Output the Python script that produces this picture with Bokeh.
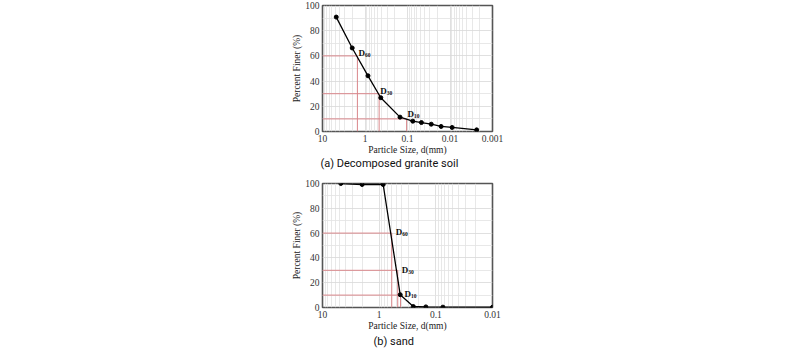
from bokeh.plotting import figure
from bokeh.layouts import column
from bokeh.models import Range1d, FixedTicker, Title, ColumnDataSource
from bokeh.core.properties import value
from bokeh.embed import file_html
from bokeh.resources import INLINE
import math

# ---- data: (a) decomposed granite soil ----
gs_size = [4.75, 2.0, 0.85, 0.425, 0.15, 0.075, 0.047, 0.0276, 0.0162, 0.0089, 0.00236]
gs_finer = [90.8, 66.3, 44.2, 26.8, 11.4, 8.2, 7.1, 5.8, 4.0, 3.2, 1.3]
gs_d_subs = ["60", "30", "10"]
gs_d_pct = [60, 30, 10]
gs_d_size = [1.51, 0.465, 0.105]

# ---- data: (b) sand ----
sd_size = [4.75, 2.0, 0.85, 0.425, 0.25, 0.15, 0.075, 0.01]
sd_finer = [100.0, 99.2, 99.2, 10.3, 0.8, 0.5, 0.3, 0.2]
sd_d_subs = ["60", "30", "10"]
sd_d_pct = [60, 30, 10]
sd_d_size = [0.6, 0.47, 0.42]

yticks = [0, 20, 40, 60, 80, 100]
yminor = [10, 30, 50, 70, 90]

SERIF = "Liberation Serif"
RED = "#d9868a"


def decade_minors(lo_exp, hi_exp):
    out = []
    for e in range(lo_exp, hi_exp):
        for m in range(2, 10):
            out.append(m * 10.0 ** e)
    return out


def make_fig(xmax, xmin, xticks, xlabels, sizes, finer, d_size, d_pct, d_subs,
             caption, cap_offset, cap_standoff, h, border_top, border_left, border_bottom,
             label_dys, label_dx):
    p = figure(width=800, height=h, x_axis_type="log",
               x_range=Range1d(xmax, xmin), y_range=Range1d(0, 100),
               output_backend="svg", toolbar_location=None,
               min_border_left=border_left, min_border_right=308,
               min_border_top=border_top, min_border_bottom=border_bottom)
    p.background_fill_color = "white"
    p.outline_line_color = "#555555"
    p.outline_line_width = 1.6

    lo = int(round(math.log10(xmin)))
    hi = int(round(math.log10(xmax)))
    p.xaxis.ticker = FixedTicker(ticks=xticks, minor_ticks=decade_minors(lo, hi))
    p.xaxis.major_label_overrides = {t: l for t, l in zip(xticks, xlabels)}
    p.yaxis.ticker = FixedTicker(ticks=yticks, minor_ticks=yminor)

    for ax in (p.xaxis[0], p.yaxis[0]):
        ax.axis_line_color = None
        ax.major_tick_line_color = None
        ax.minor_tick_line_color = None
        ax.major_tick_out = 0
        ax.minor_tick_out = 0
        ax.major_label_text_font = SERIF
        ax.major_label_text_font_size = "9.5px"
        ax.major_label_text_color = "#333333"
        ax.axis_label_text_font = SERIF
        ax.axis_label_text_font_size = "9.5px"
        ax.axis_label_text_font_style = "normal"
        ax.axis_label_text_color = "#222222"
    p.xaxis.axis_label = "Particle Size, d(mm)"
    p.yaxis.axis_label = "Percent Finer (%)"
    p.xaxis.major_label_standoff = 3
    p.xaxis.axis_label_standoff = 0
    p.yaxis.major_label_standoff = 3
    p.yaxis.axis_label_standoff = 0

    for g in (p.xgrid[0], p.ygrid[0]):
        g.grid_line_color = "#d8d8d8"
        g.grid_line_width = 0.8
        g.minor_grid_line_color = "#e2e2e2"
        g.minor_grid_line_width = 0.8

    # reference lines for D values
    for ds, dp in zip(d_size, d_pct):
        p.line([xmax, ds], [dp, dp], line_color=RED, line_width=1)
        p.line([ds, ds], [0, dp], line_color=RED, line_width=1)

    p.line(sizes, finer, line_color="black", line_width=1.3)
    p.scatter(sizes, finer, size=4, color="black")

    src = ColumnDataSource(dict(x=d_size, y=d_pct, sub=d_subs, d=["D"] * len(d_subs),
                                dy=label_dys, dys=[v + 2 for v in label_dys]))
    p.text(x="x", y="y", text="d", source=src, x_offset=label_dx, y_offset="dy",
           text_font=value(SERIF), text_font_size="9px", text_font_style="bold",
           text_baseline="middle", text_align="left", text_color="#111111")
    p.text(x="x", y="y", text="sub", source=src, x_offset=label_dx + 6.5,
           y_offset="dys", text_font=value(SERIF), text_font_size="5.5px",
           text_font_style="bold", text_baseline="middle", text_align="left",
           text_color="#111111")

    t = Title(text=caption, align="left", offset=cap_offset,
              text_font="Roboto", text_font_size="11px", text_font_style="normal",
              text_color="#111111", standoff=cap_standoff)
    p.add_layout(t, "below")
    return p


p1 = make_fig(10, 0.001, [10, 1, 0.1, 0.01, 0.001], ["10", "1", "0.1", "0.01", "0.001"],
              gs_size, gs_finer, gs_d_size, gs_d_pct, gs_d_subs,
              "(a) Decomposed granite soil", -2, -5, 177, 5, 320, 46, [-3, -3, -5], 1)
p2 = make_fig(10, 0.01, [10, 1, 0.1, 0.01], ["10", "1", "0.1", "0.01"],
              sd_size, sd_finer, sd_d_size, sd_d_pct, sd_d_subs,
              "(b) sand", 51, -2, 177, 6, 322, 47, [-1, 0, -1], 4)

layout = column(p1, p2, spacing=0)
open("out.html", "w").write(file_html(layout, INLINE))
